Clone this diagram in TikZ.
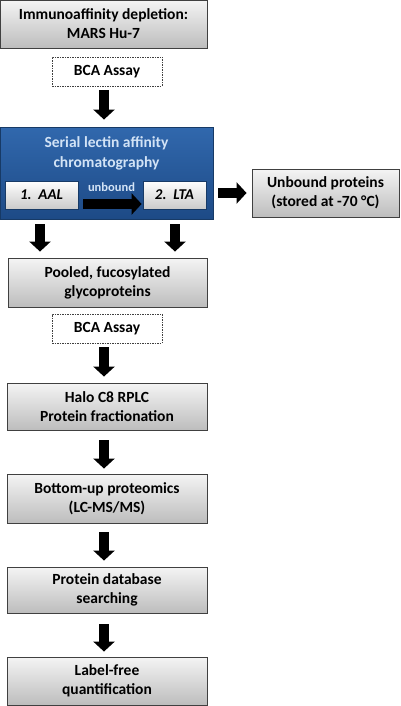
\documentclass[tikz,border=0pt]{standalone}
\usepackage{fontspec}
\setmainfont{Carlito}
\usetikzlibrary{arrows.meta}
\definecolor{boxline}{HTML}{404040}
\definecolor{boxtop}{HTML}{F4F4F4}
\definecolor{boxbot}{HTML}{BDBDBD}
\definecolor{bluetop}{HTML}{3168AD}
\definecolor{bluebot}{HTML}{1D4A86}
\definecolor{blueline}{HTML}{173A66}
\definecolor{bluetext}{HTML}{D2E3F6}
\tikzset{
  stepbox/.style={draw=boxline, line width=0.9pt, top color=boxtop, bottom color=boxbot,
    align=center, font=\fontsize{15.5}{19}\selectfont\bfseries, inner sep=0pt},
  assaybox/.style={draw=boxline, line width=0.7pt, dashed, dash pattern=on 1.5pt off 1pt, fill=white,
    align=center, font=\fontsize{15.5}{19}\selectfont\bfseries, inner sep=0pt,
    minimum width=110pt, minimum height=29pt},
  bluebox/.style={draw=blueline, line width=0.9pt, top color=bluetop, bottom color=bluebot, inner sep=0pt},
  lectinbox/.style={draw=blueline, line width=0.8pt, top color=white, bottom color=boxbot!80,
    font=\fontsize{15}{16}\selectfont\bfseries\itshape, inner sep=0pt, minimum height=28pt},
  bigarrow/.style={line width=10.5pt, draw=black, -{Triangle[width=21pt,length=10pt]}},
}
\begin{document}
\begin{tikzpicture}[x=1pt,y=-1pt]
\useasboundingbox[fill=white] (0,0) rectangle (400,706);
\node[stepbox, minimum width=207pt, minimum height=48pt] (dep) at (103.5,24) {Immunoaffinity depletion:\\MARS Hu-7};
\node[assaybox] (bca1) at (107,71.5) {BCA Assay};
\node[bluebox, minimum width=213pt, minimum height=92pt] (slac) at (106.5,173) {};
\node[align=center, text=bluetext, font=\fontsize{15.5}{20}\selectfont\bfseries] (slactitle) at (106.5,153) {Serial lectin affinity\\chromatography};
\node[lectinbox, minimum width=73pt] (aal) at (41.5,195) {1.\ \ AAL};
\node[lectinbox, minimum width=63pt] (lta) at (174.5,195) {2.\ \ LTA};
\node[text=bluetext, font=\fontsize{12.5}{13}\selectfont\bfseries] (unb) at (111.5,187) {unbound};
\coordinate (ua) at (aal.east |- 0,204);
\coordinate (ub) at (lta.west |- 0,204);
\draw[bigarrow, line width=10pt] ([xshift=5pt]ua) -- ([xshift=-1pt]ub);
\node[stepbox, minimum width=147pt, minimum height=48pt] (store) at (325.5,193) {Unbound proteins\\(stored at -70 °C)};
\draw[bigarrow] ([xshift=5pt]slac.east |- store.west) -- ([xshift=-5pt]store.west);
\node[stepbox, minimum width=199pt, minimum height=49pt] (pool) at (107.5,282.5) {Pooled, fucosylated\\glycoproteins};
\coordinate (c1) at (40,0);
\coordinate (c2) at (175,0);
\draw[bigarrow] ([yshift=-5pt]c1 |- slac.south) -- ([yshift=6pt]c1 |- pool.north);
\draw[bigarrow] ([yshift=-5pt]c2 |- slac.south) -- ([yshift=6pt]c2 |- pool.north);
\node[assaybox] (bca2) at (107,328.5) {BCA Assay};
\node[stepbox, minimum width=200pt, minimum height=47pt] (halo) at (107,406.5) {Halo C8 RPLC\\Protein fractionation};
\node[stepbox, minimum width=200pt, minimum height=49pt] (bu) at (107,498.5) {Bottom-up proteomics\\(LC-MS/MS)};
\node[stepbox, minimum width=200pt, minimum height=46pt] (db) at (107,590) {Protein database\\searching};
\node[stepbox, minimum width=200pt, minimum height=48pt] (lf) at (107,681) {Label-free\\quantification};
\draw[bigarrow] ([xshift=-3pt,yshift=-4pt]bca1.south) -- ([xshift=-2.5pt,yshift=7pt]slac.north);
\draw[bigarrow] ([xshift=-3pt,yshift=-4pt]bca2.south) -- ([xshift=-3pt,yshift=6pt]halo.north);
\draw[bigarrow] ([xshift=-3pt,yshift=-10pt]halo.south) -- ([xshift=-3pt,yshift=5pt]bu.north);
\draw[bigarrow] ([xshift=-3pt,yshift=-9pt]bu.south) -- ([xshift=-3pt,yshift=6pt]db.north);
\draw[bigarrow] ([xshift=-3pt,yshift=-11pt]db.south) -- ([xshift=-3pt,yshift=5pt]lf.north);
\end{tikzpicture}
\end{document}
